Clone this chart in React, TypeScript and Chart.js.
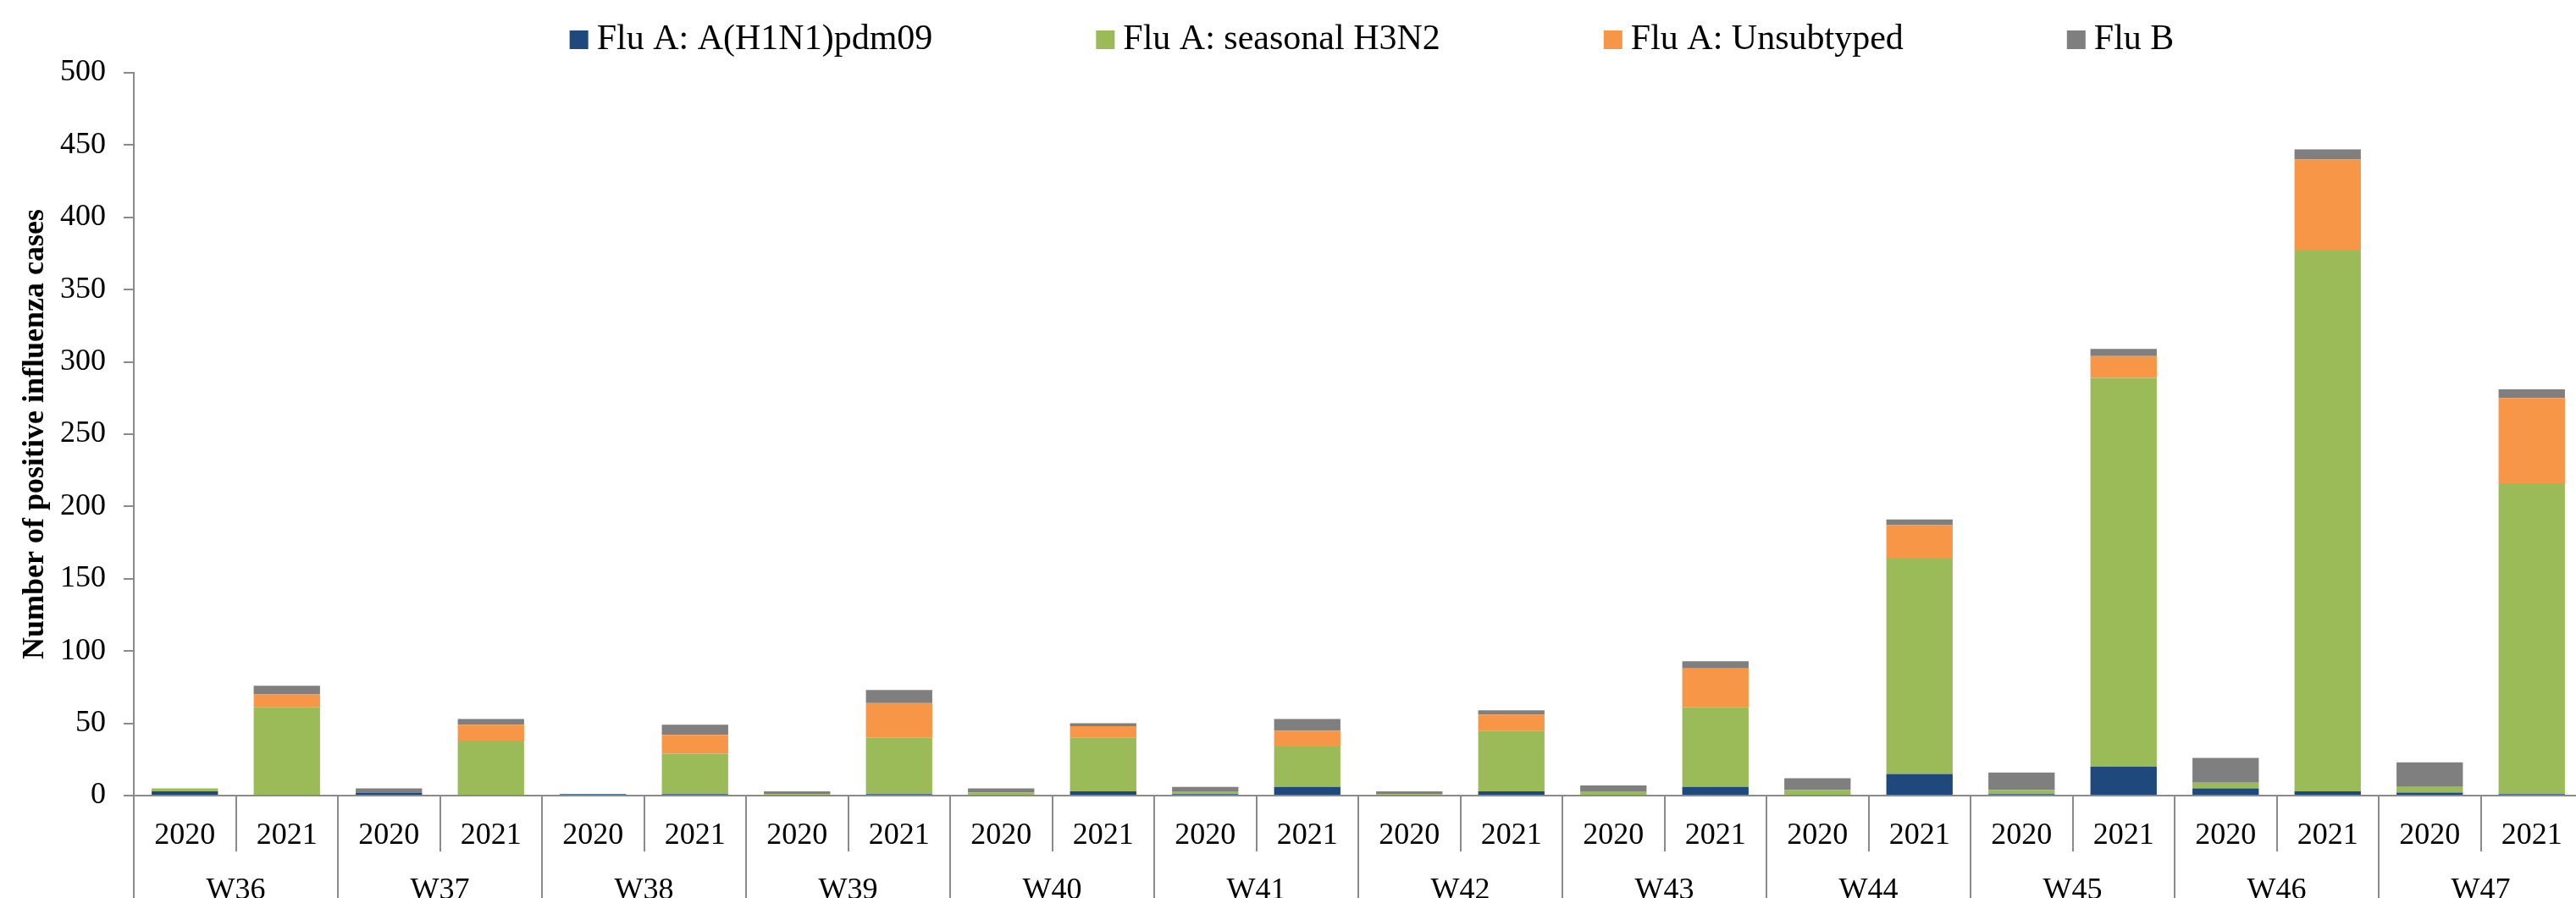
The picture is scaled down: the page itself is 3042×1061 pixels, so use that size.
import React, { useEffect, useRef } from 'react';
import { Chart, registerables } from 'chart.js';

Chart.register(...registerables);

// ---- data ----
const weeks = ['W36', 'W37', 'W38', 'W39', 'W40', 'W41', 'W42', 'W43', 'W44', 'W45', 'W46', 'W47'];
const years = ['2020', '2021'];
const categories = weeks.flatMap(() => years);

const seriesNames = ['Flu A: A(H1N1)pdm09', 'Flu A: seasonal H3N2', 'Flu A: Unsubtyped', 'Flu B'];

const h1n1 = [3, 0, 2, 0, 1, 1, 0, 1, 0, 3, 1, 6, 0, 3, 0, 6, 0, 15, 1, 20, 5, 3, 2, 1];
const h3n2 = [2, 61, 0, 38, 0, 28, 1, 39, 2, 37, 2, 28, 1, 42, 3, 55, 4, 149, 3, 269, 4, 374, 4, 215];
const unsubtyped = [0, 9, 0, 11, 0, 13, 0, 24, 0, 8, 0, 11, 0, 11, 0, 27, 0, 23, 0, 15, 0, 63, 0, 59];
const fluB = [0, 6, 3, 4, 0, 7, 2, 9, 3, 2, 3, 8, 2, 3, 4, 5, 8, 4, 12, 5, 17, 7, 17, 6];

const seriesValues = [h1n1, h3n2, unsubtyped, fluB];
const seriesColors = ['#1F497D', '#9BBB59', '#F79646', '#7F7F7F'];

const yMin = 0;
const yMax = 500;
const yStep = 50;
const yTitle = 'Number of positive influenza cases';

// ---- styles ----
const FONT = '"Liberation Serif", "Times New Roman", serif';
const AXIS_COLOR = '#8a8a8a';

const groupPlugin = {
  id: 'groupLabels',
  afterDraw(chart: any) {
    const { ctx, chartArea, scales } = chart;
    const x = scales.x;
    const n = categories.length;
    const w = (chartArea.right - chartArea.left) / n;
    ctx.save();
    ctx.strokeStyle = AXIS_COLOR;
    ctx.lineWidth = 2;
    for (let g = 0; g <= weeks.length; g++) {
      const px = g < weeks.length ? x.getPixelForValue(g * 2) - w / 2 : x.getPixelForValue(n - 1) + w / 2;
      const ax = Math.round(px);
      ctx.beginPath();
      ctx.moveTo(ax, chartArea.bottom);
      ctx.lineTo(ax, chart.height);
      ctx.stroke();
    }
    ctx.fillStyle = '#000';
    ctx.font = `36px ${FONT}`;
    ctx.textAlign = 'center';
    ctx.textBaseline = 'alphabetic';
    weeks.forEach((wk, g) => {
      const cx = (x.getPixelForValue(g * 2) + x.getPixelForValue(g * 2 + 1)) / 2;
      ctx.fillText(wk, cx, chartArea.bottom + 122);
    });
    ctx.restore();
  },
};

const legendPlugin = {
  id: 'topLegend',
  afterDraw(chart: any) {
    const { ctx } = chart;
    ctx.save();
    ctx.font = `42px ${FONT}`;
    const box = 22;
    const textGap = 10;
    const itemGap = 193;
    const items = chart.data.datasets.map((ds: any) => ({
      label: ds.label,
      color: ds.backgroundColor,
      w: ctx.measureText(ds.label).width,
    }));
    const total = items.reduce((s: number, it: any) => s + box + textGap + it.w, 0) + itemGap * (items.length - 1);
    let x = 1620 - total / 2;
    ctx.textBaseline = 'alphabetic';
    ctx.textAlign = 'left';
    items.forEach((it: any) => {
      ctx.fillStyle = it.color;
      ctx.fillRect(x, 36, box, box);
      ctx.fillStyle = '#000';
      ctx.fillText(it.label, x + box + textGap, 58);
      x += box + textGap + it.w + itemGap;
    });
    ctx.restore();
  },
};

export default function App() {
  const canvasRef = useRef<HTMLCanvasElement | null>(null);

  useEffect(() => {
    document.body.style.margin = '0';
    document.body.style.overflow = 'hidden';
    const canvas = canvasRef.current;
    if (!canvas) return;
    Chart.defaults.font.family = FONT;
    const chart = new Chart(canvas, {
      type: 'bar',
      data: {
        labels: categories,
        datasets: seriesNames.map((name, i) => ({
          label: name,
          data: seriesValues[i],
          backgroundColor: seriesColors[i],
          borderWidth: 0,
          barPercentage: 0.65,
          categoryPercentage: 1.0,
        })),
      },
      options: {
        responsive: false,
        animation: false,
        devicePixelRatio: 1,
        layout: { padding: { top: 86, left: 0, right: 2, bottom: 0 } },
        plugins: {
          legend: { display: false },
          tooltip: { enabled: false },
          title: { display: false },
        },
        scales: {
          x: {
            stacked: true,
            offset: true,
            afterFit: (scale: any) => {
              scale.height = 121;
            },
            border: { display: true, color: AXIS_COLOR, width: 2 },
            grid: {
              display: true,
              offset: true,
              drawOnChartArea: false,
              drawTicks: true,
              tickLength: 66,
              color: AXIS_COLOR,
              lineWidth: 2,
            },
            ticks: {
              autoSkip: false,
              maxRotation: 0,
              minRotation: 0,
              padding: -40,
              color: '#000',
              font: { size: 36, family: FONT },
            },
          },
          y: {
            stacked: true,
            min: yMin,
            max: yMax,
            afterFit: (scale: any) => {
              scale.width = 158;
            },
            border: { display: true, color: AXIS_COLOR, width: 2 },
            grid: {
              display: true,
              drawOnChartArea: false,
              drawTicks: true,
              tickLength: 12,
              color: AXIS_COLOR,
              lineWidth: 2,
            },
            ticks: {
              stepSize: yStep,
              padding: 21,
              color: '#000',
              font: { size: 36, family: FONT },
            },
            title: {
              display: true,
              text: yTitle,
              color: '#000',
              font: { size: 36, weight: 'bold', family: FONT },
              padding: { top: 20, bottom: 0 },
            },
          },
        },
      },
      plugins: [groupPlugin, legendPlugin],
    });
    return () => {
      chart.destroy();
    };
  }, []);

  return (
    <div style={{ width: 3042, height: 1061, overflow: 'hidden', background: '#fff' }}>
      <canvas ref={canvasRef} width={3052} height={1061} style={{ display: 'block', width: 3052, height: 1061 }} />
    </div>
  );
}
